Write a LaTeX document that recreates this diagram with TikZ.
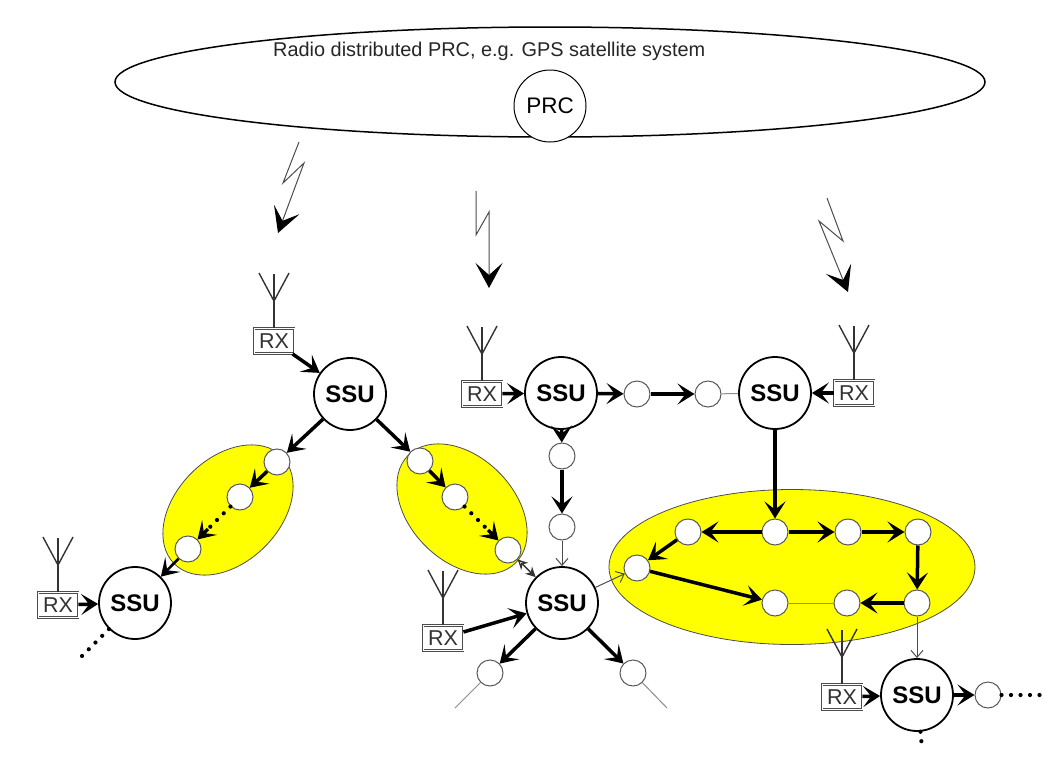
\documentclass[tikz,border=0pt]{standalone}
\usepackage{fontspec}
\setmainfont{Liberation Sans}
\usetikzlibrary{arrows.meta,shapes.geometric}
\definecolor{zonefill}{RGB}{255,255,0}
\begin{document}
\begin{tikzpicture}[x=1pt,y=-1pt,
	ssu/.style={circle,draw,line width=1.8pt,fill=white,minimum size=72pt,inner sep=0pt,font=\fontsize{24}{24}\selectfont\bfseries},
	hop/.style={circle,draw=black!65,line width=1pt,fill=white,minimum size=26pt,inner sep=0pt},
	rx/.style={rectangle,draw=black!70,double=white,double distance=.8pt,line width=.9pt,fill=white,minimum width=40pt,minimum height=25pt,inner sep=0pt,font=\fontsize{21.5}{21.5}\selectfont,text=black!80},
	zone/.style={ellipse,draw=black!70,line width=.8pt,fill=zonefill,inner sep=0pt},
	link/.style={-{Stealth[length=17pt,width=21pt,inset=8pt]},line width=3.5pt},
	weak/.style={-{Straight Barb[length=7pt,width=12pt]},line width=1pt,black!70},
	bare/.style={line width=1pt,black!45},
	dots/.style={line width=4.2pt,line cap=round,dash pattern=on 0pt off 9.5pt},
	bolt/.style={-{Stealth[length=25pt,width=27pt,inset=12pt,color=black]},line width=1pt,black!70,line join=miter},
	ant/.style={line width=1.4pt,black!80}]
	\useasboundingbox (0,0) rectangle (1053,758);
	\node[ellipse,draw,line width=1.5pt,fill=white,minimum width=870pt,minimum height=110pt,inner sep=0pt] (SAT) at (550,82) {};
	\node[circle,draw,line width=1pt,fill=white,minimum size=72pt,inner sep=0pt,font=\fontsize{22.5}{22.5}\selectfont] (PRC) at (550,106) {PRC};
	\node[anchor=west,inner sep=0pt,font=\fontsize{19.9}{19.9}\selectfont,text=black!85] (TXT) at (273,51) {Radio distributed PRC, e.g. GPS satellite system};

	% radio links
	\draw[bolt] (299,142) -- (283,183) -- (304,163) -- (278,233);
	\draw[bolt] (476,191) -- (476,235) -- (489,212) -- (489,288);
	\draw[bolt] (827,198) -- (843,241) -- (819,221) -- (848,292);

	\node[zone,minimum width=152pt,minimum height=104pt,rotate=45] (ZL) at (228,510) {};
	\node[zone,minimum width=152pt,minimum height=104pt,rotate=-45] (ZR) at (462,509) {};
	\node[zone,minimum width=366pt,minimum height=155pt] (ZB) at (792,567) {};

	\node[ssu] (S1) at (350,394) {SSU};
	\node[ssu] (S2) at (561,393) {SSU};
	\node[ssu] (S3) at (775,393) {SSU};
	\node[ssu] (S4) at (135,603) {SSU};
	\node[ssu] (S5) at (562,603) {SSU};
	\node[ssu] (S6) at (917,695) {SSU};

	\node[rx] (R1) at (274,341) {RX};
	\node[rx] (R2) at (482,394) {RX};
	\node[rx] (R3) at (854,393) {RX};
	\node[rx] (R4) at (58,605) {RX};
	\node[rx] (R5) at (443,638) {RX};
	\node[rx] (R6) at (842,697) {RX};

	% antennas
	\foreach \r in {R1,R2,R3,R4,R5,R6}{
		\draw[ant] (\r.north) -- +(0,-27) coordinate (T) -- +(0,-54);
		\draw[ant] (T) -- +(-15,-28);
		\draw[ant] (T) -- +(15,-28);
	}

	\node[hop] (L1) at (277,462) {};
	\node[hop] (L2) at (240,497) {};
	\node[hop] (L3) at (188,549) {};
	\node[hop] (M1) at (420,461) {};
	\node[hop] (M2) at (455,497) {};
	\node[hop] (M3) at (508,550) {};
	\node[hop] (A1) at (637,394) {};
	\node[hop] (A2) at (708,394) {};
	\node[hop] (D1) at (562,456) {};
	\node[hop] (D2) at (562,527) {};
	\node[hop] (B1) at (688,532) {};
	\node[hop] (B2) at (775,532) {};
	\node[hop] (B3) at (848,532) {};
	\node[hop] (B4) at (918,532) {};
	\node[hop] (B5) at (637,568) {};
	\node[hop] (B6) at (775,603) {};
	\node[hop] (B7) at (847,603) {};
	\node[hop] (B8) at (917,603) {};
	\node[hop] (C1) at (490,673) {};
	\node[hop] (C2) at (633,673) {};
	\node[hop] (E1) at (988,695) {};

	\coordinate (LM) at (208,529);
	\coordinate (MM) at (488,530);
	\coordinate (TL) at (78,660);
	\coordinate (TB) at (922,748);
	\coordinate (TR) at (1044,695);
	\coordinate (C3) at (455,708);
	\coordinate (C4) at (667,708);

	\draw[link] (R1) -- (S1);
	\draw[link] (S1) -- (L1);
	\draw[link] (S1) -- (M1);
	\draw[link] (L1) -- (L2);
	\draw[dots] (L2) -- (LM);
	\draw[link] (LM) -- (L3);
	\draw[link,line width=2.6pt] (L3) -- (S4);
	\draw[link] (M1) -- (M2);
	\draw[dots] (M2) -- (MM);
	\draw[link] (MM) -- (M3);
	\draw[link] (R2) -- (S2);
	\draw[link] (S2) -- (A1);
	\draw[link] (A1) -- (A2);
	\draw[bare] (A2) -- (S3);
	\draw[link] (R3) -- (S3);
	\draw[link] (S2) -- (D1);
	\draw[link] (D1) -- (D2);
	\draw[weak] (D2) -- (S5);
	\draw[link] (S3) -- (B2);
	\draw[link] (B2) -- (B1);
	\draw[link] (B2) -- (B3);
	\draw[link] (B3) -- (B4);
	\draw[link] (B4) -- (B8);
	\draw[link] (B8) -- (B7);
	\draw[bare] (B6) -- (B7);
	\draw[link] (B1) -- (B5);
	\draw[link] (B5) -- (B6);
	\draw[weak] (S5) -- (B5);
	\draw[{Stealth[length=10pt,width=10pt,open]}-{Stealth[length=10pt,width=10pt]},line width=1.4pt,black!80] (M3) -- (S5);
	\draw[weak] (B8) -- (S6);
	\draw[link] (R4) -- (S4);
	\draw[link] (R5) -- (S5);
	\draw[link] (S5) -- (C1);
	\draw[link] (S5) -- (C2);
	\draw[link] (R6) -- (S6);
	\draw[link] (S6) -- (E1);
	\draw[bare] (C1) -- (C3);
	\draw[bare] (C2) -- (C4);
	\draw[dots] (S4) -- (TL);
	\draw[dots] (S6) -- (TB);
	\draw[dots] (E1) -- (TR);
\end{tikzpicture}
\end{document}
